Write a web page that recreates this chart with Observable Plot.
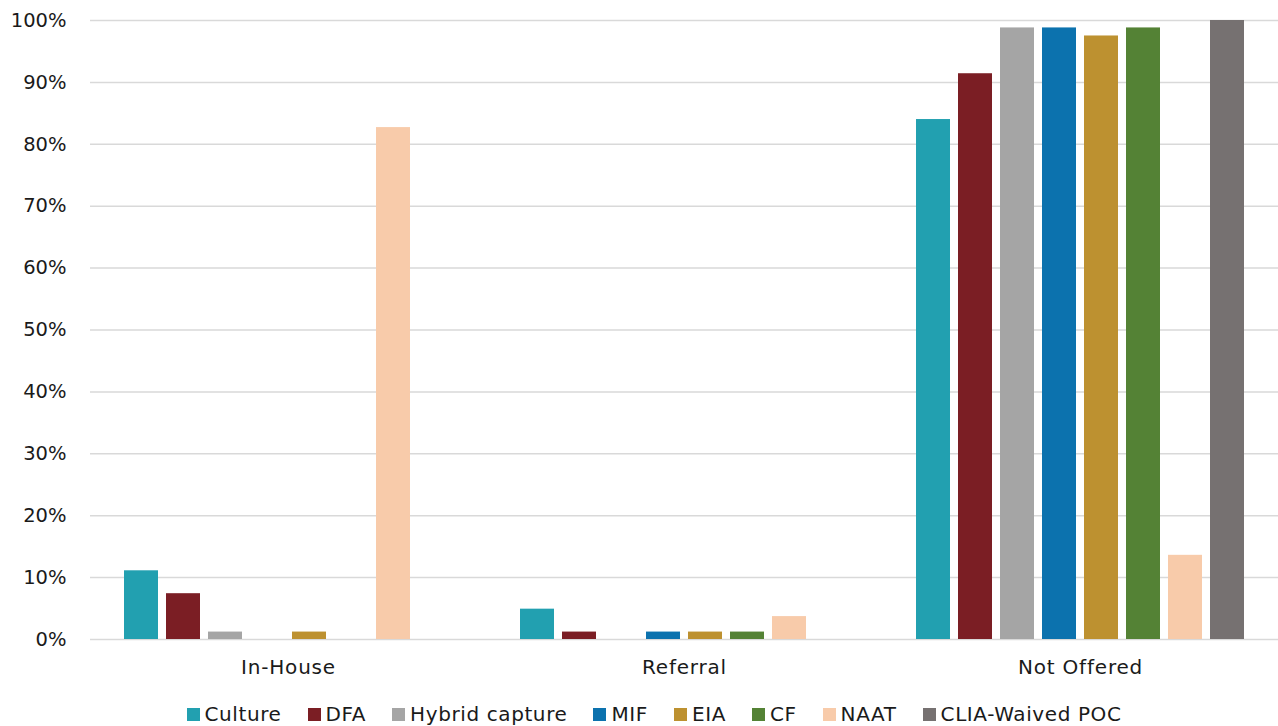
<!DOCTYPE html>
<html>
<head>
<meta charset="utf-8">
<script src="https://cdn.jsdelivr.net/npm/d3@7"></script>
<script src="https://cdn.jsdelivr.net/npm/@observablehq/plot@0.6"></script>
<style>
  html, body { margin: 0; padding: 0; background: #fff; }
  body { width: 1278px; height: 726px; overflow: hidden; font-family: "DejaVu Sans", sans-serif; color: #1a1a1a; }
  #legend { display: flex; justify-content: center; align-items: center; margin-top: 22px; height: 24px; font-size: 20px; letter-spacing: 0.6px; line-height: 24px; padding-left: 30px; }
  .item { display: flex; align-items: center; margin: 0 13px; }
  .sw { width: 13px; height: 13px; margin-right: 5px; display: inline-block; }
  g[aria-label="fx-axis tick label"] { font-size: 20px; letter-spacing: 0.8px; }
  g[aria-label="y-axis tick label"] { font-size: 19.5px; }
</style>
</head>
<body>
<div id="chart"></div>
<div id="legend"></div>
<script>
const groups = ["In-House", "Referral", "Not Offered"];
const series = ["Culture", "DFA", "Hybrid capture", "MIF", "EIA", "CF", "NAAT", "CLIA-Waived POC"];
const colors = ["#22A0B0", "#7B1E24", "#A5A5A5", "#0C72AE", "#BD9130", "#548235", "#F8CBAA", "#767171"];
const inHouse    = [11.1, 7.4, 1.2, 0, 1.2, 0, 82.7, 0];
const referral   = [4.9, 1.2, 0, 1.2, 1.2, 1.2, 3.7, 0];
const notOffered = [84.0, 91.4, 98.8, 98.8, 97.5, 98.8, 13.6, 100];
const yTicks = [0, 10, 20, 30, 40, 50, 60, 70, 80, 90, 100];

const valuesByGroup = [inHouse, referral, notOffered];
const data = [];
groups.forEach((g, gi) => {
  series.forEach((s, si) => {
    data.push({group: g, series: s, value: valuesByGroup[gi][si]});
  });
});

const chart = Plot.plot({
  width: 1278,
  height: 680,
  marginTop: 20,
  marginBottom: 41,
  marginLeft: 90,
  marginRight: 0,
  style: {fontFamily: "'DejaVu Sans', sans-serif", fontSize: "19px", color: "#1a1a1a", background: "#fff"},
  fx: {domain: groups, padding: 0, label: null, tickSize: 0, tickPadding: 20},
  x: {domain: series, axis: null, paddingInner: 0.2, paddingOuter: 0.8},
  y: {domain: [0, 100], ticks: yTicks, tickFormat: d => d + "%", tickSize: 0, tickPadding: 24, label: null},
  color: {domain: series, range: colors},
  marks: [
    Plot.ruleY(yTicks, {stroke: "#d9d9d9", strokeWidth: 1.5}),
    Plot.barY(data.filter(d => d.value > 0), {fx: "group", x: "series", y: "value", fill: "series"})
  ]
});
document.getElementById("chart").appendChild(chart);

const legend = document.getElementById("legend");
series.forEach((s, i) => {
  const item = document.createElement("div");
  item.className = "item";
  const sw = document.createElement("span");
  sw.className = "sw";
  sw.style.background = colors[i];
  item.appendChild(sw);
  item.appendChild(document.createTextNode(s));
  legend.appendChild(item);
});
</script>
</body>
</html>
